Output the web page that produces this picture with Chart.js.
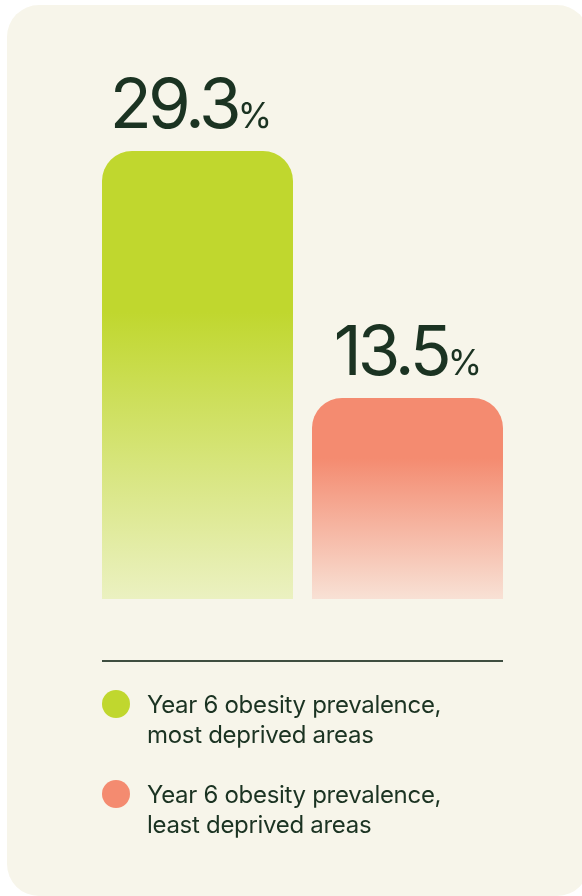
<!DOCTYPE html>
<html>
<head>
<meta charset="utf-8">
<script src="https://cdn.jsdelivr.net/npm/chart.js@4"></script>
<style>
  html, body { margin: 0; padding: 0; background: #ffffff; width: 582px; height: 896px; overflow: hidden; }
  #card { position: absolute; left: 7px; top: 5px; width: 582px; height: 891px; border-radius: 32px; background: #F7F5EA; }
  #wrap { position: absolute; left: 0; top: 0; width: 582px; height: 896px; }
</style>
</head>
<body>
<div id="card"></div>
<div id="wrap"><canvas id="c" width="582" height="896"></canvas></div>
<script>
// ---- data ----
const categories = ['Year 6 obesity prevalence, most deprived areas', 'Year 6 obesity prevalence, least deprived areas'];
const values = [29.3, 13.5];
const valueLabels = ['29.3', '13.5'];
const legendLines = [['Year 6 obesity prevalence,', 'most deprived areas'], ['Year 6 obesity prevalence,', 'least deprived areas']];
const topColors = ['#C0D72E', '#F48B70'];
const bottomColors = ['#EBF1C1', '#F8E1D5'];
const solidStops = [0.36, 0.30];
const Y_AXIS_MIN = 0.64;
const Y_AXIS_MAX = 29.3;

const TEXT = '#1B3322';

function barGradient(ctx) {
  const chart = ctx.chart;
  const i = ctx.dataIndex;
  const y = chart.scales.y;
  if (!chart.chartArea || !y) return topColors[i];
  const top = y.getPixelForValue(values[i]);
  const base = y.getPixelForValue(Y_AXIS_MIN);
  const g = chart.ctx.createLinearGradient(0, top, 0, base);
  g.addColorStop(0, topColors[i]);
  g.addColorStop(solidStops[i], topColors[i]);
  g.addColorStop(1, bottomColors[i]);
  return g;
}

const labelsPlugin = {
  id: 'valueLabels',
  afterDatasetsDraw(chart) {
    const ctx = chart.ctx;
    const meta = chart.getDatasetMeta(0);
    ctx.save();
    ctx.fillStyle = TEXT;
    ctx.textBaseline = 'alphabetic';
    ctx.textAlign = 'right';
    meta.data.forEach((bar, i) => {
      const left = bar.x - bar.width / 2;
      const baseY = bar.y - 23;
      const right = left + 170;
      ctx.font = '400 35px Inter';
      ctx.letterSpacing = '0px';
      ctx.fillText('%', right, baseY);
      const pw = ctx.measureText('%').width;
      ctx.font = '400 69px Inter';
      ctx.letterSpacing = '-4px';
      ctx.fillText(valueLabels[i], right - pw, baseY);
    });
    ctx.restore();
  }
};

const legendPlugin = {
  id: 'customLegend',
  afterDraw(chart) {
    const ctx = chart.ctx;
    const meta = chart.getDatasetMeta(0);
    const x0 = meta.data[0].x - meta.data[0].width / 2;
    const x1 = meta.data[1].x + meta.data[1].width / 2;
    ctx.save();
    ctx.fillStyle = '#3F4E41';
    ctx.fillRect(x0, 660, x1 - x0, 2);
    legendLines.forEach((lines, i) => {
      const cy = 704 + i * 90;
      ctx.beginPath();
      ctx.arc(x0 + 14, cy, 14, 0, Math.PI * 2);
      ctx.fillStyle = i === 0 ? '#C0D72E' : '#F48B70';
      ctx.fill();
      ctx.fillStyle = TEXT;
      ctx.font = '400 24px Inter';
      ctx.letterSpacing = '-0.3px';
      ctx.textBaseline = 'alphabetic';
      lines.forEach((t, j) => ctx.fillText(t, 147, cy + 9 + j * 30));
    });
    ctx.restore();
  }
};

new Chart(document.getElementById('c'), {
  type: 'bar',
  data: {
    labels: categories,
    datasets: [{
      data: values,
      backgroundColor: barGradient,
      borderWidth: 0,
      borderSkipped: false,
      borderRadius: { topLeft: 30, topRight: 30, bottomLeft: 0, bottomRight: 0 },
      categoryPercentage: 1,
      barPercentage: 0.9095
    }]
  },
  options: {
    responsive: false,
    animation: false,
    layout: { padding: { left: 92.5, right: 69.5, top: 151, bottom: 297 } },
    scales: {
      x: { display: false },
      y: { display: false, min: Y_AXIS_MIN, max: Y_AXIS_MAX }
    },
    plugins: { legend: { display: false }, tooltip: { enabled: false } }
  },
  plugins: [labelsPlugin, legendPlugin]
});
</script>
</body>
</html>
